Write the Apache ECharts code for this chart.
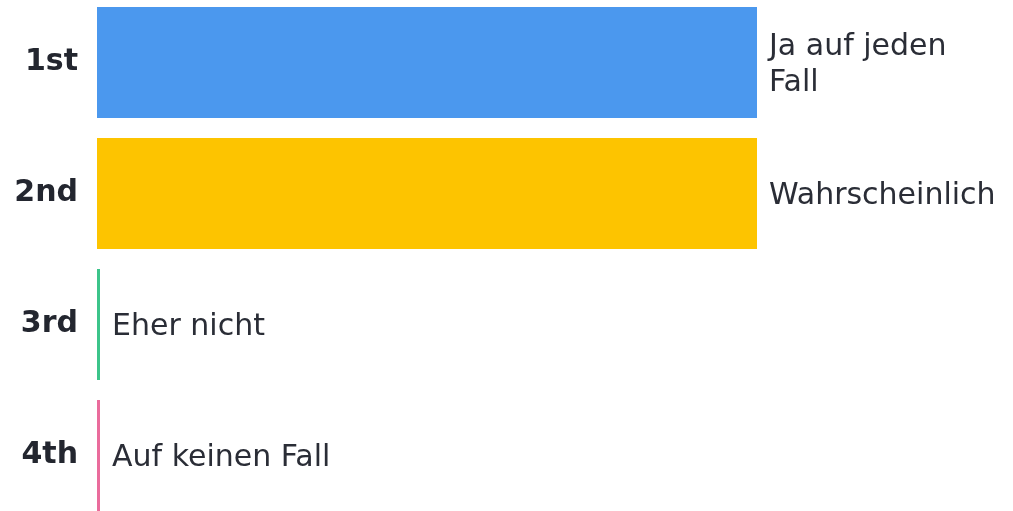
<!DOCTYPE html>
<html>
<head>
<meta charset="utf-8">
<script src="https://cdn.jsdelivr.net/npm/echarts@6/dist/echarts.min.js"></script>
<style>
html,body{margin:0;padding:0;background:#fff;}
#c{width:1013px;height:511px;}
</style>
</head>
<body>
<div id="c"></div>
<script>
const categories = ['1st', '2nd', '3rd', '4th'];
const answers = ['Ja auf jeden\nFall', 'Wahrscheinlich', 'Eher nicht', 'Auf keinen Fall'];
const values = [50, 50, 0, 0];
const palette = ['#4b98ee', '#fdc400', '#3cc48a', '#ea6c9c'];

const chart = echarts.init(document.getElementById('c'));
chart.setOption({
  animation: false,
  grid: { left: 97, top: -3, width: 924, height: 524, outerBoundsMode: 'none', containLabel: false },
  xAxis: {
    type: 'value', min: 0, max: 70,
    axisLine: { show: false }, axisTick: { show: false },
    axisLabel: { show: false }, splitLine: { show: false }
  },
  yAxis: {
    type: 'category', inverse: true, data: categories,
    axisLine: { show: false }, axisTick: { show: false },
    axisLabel: {
      margin: 19, color: '#23262f', fontFamily: 'DejaVu Sans', fontWeight: 'bold', fontSize: 30,
      padding: [6, 0, 0, 0]
    }
  },
  series: [{
    type: 'bar',
    barWidth: 111,
    barMinHeight: 3,
    data: values.map((v, i) => ({ value: v, itemStyle: { color: palette[i] } })),
    label: {
      show: true, position: 'right', distance: 12, offset: [0, 3],
      formatter: p => answers[p.dataIndex],
      color: '#2a2d36', fontFamily: 'DejaVu Sans', fontSize: 30, lineHeight: 36
    }
  }]
});
</script>
</body>
</html>
